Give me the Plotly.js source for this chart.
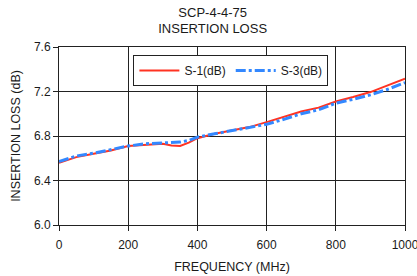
<!DOCTYPE html>
<html><head><meta charset="utf-8">
<script src="https://cdn.plot.ly/plotly-3.0.1.min.js"></script>
<style>html,body{margin:0;padding:0;background:#fff}#c{width:417px;height:276px}</style>
</head><body><div id="c"></div>
<script>
const freq = [0,50,100,150,200,250,300,325,350,375,400,450,500,550,600,650,700,750,800,850,900,950,1000];
const s1 = [6.56,6.61,6.64,6.67,6.71,6.72,6.73,6.715,6.71,6.74,6.78,6.82,6.85,6.88,6.925,6.975,7.02,7.055,7.11,7.15,7.195,7.255,7.315];
const s3 = [6.57,6.62,6.645,6.675,6.71,6.73,6.74,6.74,6.745,6.76,6.79,6.82,6.85,6.875,6.905,6.95,7.0,7.035,7.095,7.13,7.17,7.22,7.28];
const yTicks = [6.0,6.4,6.8,7.2,7.6];
const xTicks = [0,200,400,600,800,1000];
const font = "Liberation Sans, Arial, sans-serif";
const data = [
  {x: freq, y: s1, name: "S-1(dB)", mode: "lines", line: {color: "#ff3322", width: 2}},
  {x: freq, y: s3, name: "S-3(dB)", mode: "lines", line: {color: "#3388ff", width: 3, dash: "10px,3px,3px,3px"}}
];
const layout = {
  width: 417, height: 276,
  margin: {l: 59, r: 12, t: 47, b: 51},
  paper_bgcolor: "#fff", plot_bgcolor: "#fff",
  font: {family: font, size: 12, color: "#1a1a1a"},
  title: {text: "SCP-4-4-75<br>INSERTION LOSS", x: 0.51, xref: "container", y: 0.94, yref: "container", yanchor: "top", font: {size: 13, family: font, color: "#1a1a1a"}},
  xaxis: {range: [0, 1000], tickvals: xTicks, ticktext: xTicks.map(String), showgrid: true, gridcolor: "#222", gridwidth: 1,
    zeroline: false, showline: true, linecolor: "#222", mirror: true, ticks: "outside", ticklen: 5, tickcolor: "#222",
    ticklabeloverflow: "allow", ticklabelstandoff: 4,
    title: {text: "FREQUENCY (MHz)", font: {size: 12.5, family: font, color: "#1a1a1a"}, standoff: 10}},
  yaxis: {range: [6.0, 7.6], tickvals: yTicks, ticktext: yTicks.map(v => v.toFixed(1)), showgrid: true, gridcolor: "#222", gridwidth: 1,
    zeroline: false, showline: true, linecolor: "#222", mirror: true, ticks: "outside", ticklen: 5, tickcolor: "#222",
    title: {text: "INSERTION LOSS (dB)", font: {size: 12.5, family: font, color: "#1a1a1a"}, standoff: 10}},
  showlegend: true,
  legend: {orientation: "h", x: 0.215, y: 0.955, xanchor: "left", yanchor: "top", bgcolor: "#fff", bordercolor: "#222", borderwidth: 1,
    font: {size: 12, family: font, color: "#1a1a1a"}, itemwidth: 40, tracegroupgap: 0}
};
Plotly.newPlot("c", data, layout, {displayModeBar: false, staticPlot: true});
</script></body></html>
